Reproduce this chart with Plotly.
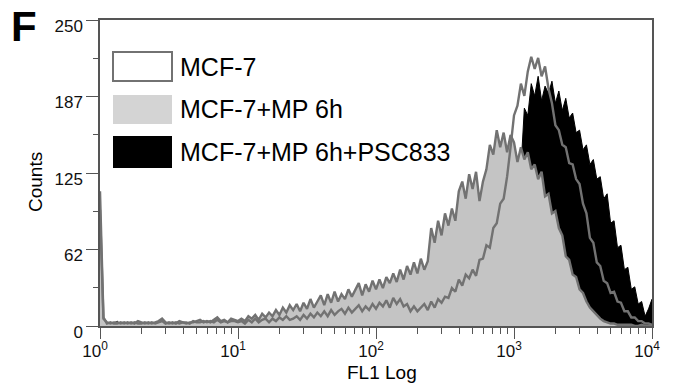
import numpy as np
import plotly.graph_objects as go

# ---- data (counts per channel, channels spaced 0.025 decades from 10^0 to 10^4) ----
n_channels = 161
log_step = 0.025

mcf7_counts = [
    110, 7, 2, 3, 2, 2, 3, 2, 3, 2,
    3, 2, 2, 3, 2, 3, 2, 3, 4, 2,
    3, 2, 3, 2, 3, 3, 2, 4, 3, 3,
    4, 3, 4, 3, 5, 3, 4, 3, 4, 4,
    3,
    4, 2, 5, 3, 6, 3, 5, 6, 3, 6,
    4, 7, 5, 8, 5, 6, 8, 5, 9, 6,
    10, 7, 11, 8, 12, 8, 13, 9, 12, 14,
    10, 15, 11, 14, 17, 12, 16, 13, 18, 14,
    19, 16, 21, 15, 23, 18, 22, 16, 18, 12,
    16, 12, 15, 18, 13, 20, 15, 22, 19, 24,
    23, 31, 28, 38, 33, 42, 39, 46, 41, 54,
    55, 66, 64, 80, 84, 100, 104, 122, 146, 172,
    180, 198, 188, 208, 220, 210, 219, 204, 212, 194,
    182, 164, 160, 148, 146, 133, 132, 120, 116, 100,
    92, 72, 68, 52, 49, 37, 35, 27, 28, 20,
    19, 12, 12, 7, 7, 4, 4, 2, 2, 1,
]

mp6h_counts = [
    95, 6, 3, 2, 3, 3, 2, 3, 2, 3,
    2, 4, 3, 2, 3, 2, 3, 4, 6, 3,
    2, 3, 2, 4, 3, 2, 3, 3, 4, 5,
    3, 4, 3, 5, 7, 4, 5, 3, 6, 5,
    4,
    6, 4, 8, 6, 9, 5, 10, 7, 11, 8,
    13, 9, 15, 11, 17, 13, 18, 12, 19, 14,
    22, 15, 20, 25, 17, 26, 19, 28, 20, 26,
    22, 30, 24, 29, 35, 25, 34, 28, 37, 30,
    38, 31, 40, 35, 43, 36, 46, 38, 49, 42,
    52, 43, 55, 46, 53, 80, 68, 86, 74, 92,
    82, 96, 86, 110, 118, 104, 124, 112, 126, 102,
    118, 128, 148, 140, 160, 146, 158, 142, 156, 150,
    134, 146, 136, 142, 128, 132, 120, 126, 106, 108,
    92, 94, 80, 74, 57, 54, 42, 40, 30, 27,
    20, 15, 12, 9, 6, 4, 3, 2, 2, 1,
    1, 1, 1, 1, 0, 0, 1, 0, 0, 0,
]

psc833_counts = [
    2, 1, 1, 1, 2, 4, 1, 1, 1, 1,
    1, 1, 1, 1, 1, 1, 1, 1, 1, 1,
    1, 1, 1, 1, 1, 1, 1, 4, 1, 1,
    1, 1, 1, 1, 1, 1, 1, 1, 1, 1,
    1,
    1, 1, 2, 1, 2, 1, 2, 2, 1, 2,
    2, 2, 3, 2, 2, 3, 2, 3, 3, 2,
    3, 3, 4, 3, 3, 4, 4, 3, 4, 5,
    4, 5, 4, 5, 5, 6, 5, 6, 6, 7,
    7, 6, 8, 7, 8, 9, 8, 9, 10, 9,
    11, 10, 12, 11, 13, 14, 13, 15, 16, 18,
    19, 21, 23, 25, 27, 30, 33, 36, 40, 44,
    49, 54, 60, 66, 74, 82, 92, 104, 120, 138,
    135, 128, 178, 172, 198, 188, 204, 184, 196, 190,
    200, 182, 192, 176, 186, 170, 174, 158, 160, 144,
    148, 132, 136, 120, 122, 104, 108, 84, 86, 64,
    66, 46, 48, 30, 32, 18, 20, 8, 14, 22,
]

series_names = ["MCF-7", "MCF-7+MP 6h", "MCF-7+MP 6h+PSC833"]
y_tick_values = [0, 62.5, 125, 187.5, 250]
y_tick_labels = ["0", "62", "125", "187", "250"]
x_tick_values = [1, 10, 100, 1000, 10000]
x_tick_labels = ["10<sup>0</sup>", "10<sup>1</sup>", "10<sup>2</sup>", "10<sup>3</sup>", "10<sup>4</sup>"]

channels = 10 ** (np.arange(n_channels) * log_step)

W, H = 674, 387
ML, MR, MT, MB = 100, 22, 20, 61
PW, PH = W - ML - MR, H - MT - MB


def px(x):
    return (x - ML) / PW


def py(y):
    return (H - MB - y) / PH


FONT = "Liberation Sans, Arial, Helvetica, sans-serif"
GRAY_LINE = "#727272"
AXIS = "#555555"

fig = go.Figure()
fig.add_trace(go.Scatter(x=channels, y=psc833_counts, mode="lines", fill="tozeroy",
                         fillcolor="#000000", line=dict(color="#000000", width=1),
                         name=series_names[2], showlegend=False))
fig.add_trace(go.Scatter(x=channels, y=mp6h_counts, mode="lines", fill="tozeroy",
                         fillcolor="#c4c4c4", line=dict(color=GRAY_LINE, width=2.4),
                         name=series_names[1], showlegend=False))
fig.add_trace(go.Scatter(x=channels, y=mcf7_counts, mode="lines",
                         line=dict(color=GRAY_LINE, width=2.4),
                         name=series_names[0], showlegend=False))

minor_x = [m * 10 ** d for d in range(4) for m in range(2, 10)]

fig.update_layout(
    width=W, height=H,
    margin=dict(l=ML, r=MR, t=MT, b=MB),
    paper_bgcolor="white", plot_bgcolor="white",
    font=dict(family=FONT, color="#111111", size=17),
    xaxis=dict(type="log", range=[0, 4], tickmode="array", tickvals=x_tick_values,
               ticktext=x_tick_labels, ticks="outside", ticklen=11, tickwidth=1.2,
               tickcolor=AXIS, showline=True, linecolor=AXIS, linewidth=1.5, mirror=True,
               showgrid=False, zeroline=False, tickfont=dict(size=17, family=FONT),
               ticklabelshift=-5, ticklabelstandoff=-2,
               minor=dict(tickvals=minor_x, ticks="outside", ticklen=6, tickcolor=AXIS,
                          tickwidth=1, showgrid=False)),
    yaxis=dict(range=[0, 250], tickmode="array", tickvals=y_tick_values,
               ticktext=y_tick_labels, ticks="outside", ticklen=12, tickwidth=1.2,
               tickcolor=AXIS, showline=True, linecolor=AXIS, linewidth=1.5, mirror=True,
               showgrid=False, zeroline=False, tickfont=dict(size=17, family=FONT),
               ticklabelshift=6,
               minor=dict(tickvals=[31.25, 93.75, 156.25, 218.75], ticks="outside",
                          ticklen=5, tickcolor=AXIS, tickwidth=1, showgrid=False)),
)

# legend swatches (pixel boxes) and labels
swatches = [
    (52, 81, "white", GRAY_LINE, 2),
    (95, 124, "#d4d4d4", "#d4d4d4", 0),
    (136, 168, "#000000", "#000000", 0),
]
for (top, bottom, fillc, linec, lw), name in zip(swatches, series_names):
    fig.add_shape(type="rect", xref="paper", yref="paper",
                  x0=px(113), x1=px(172), y0=py(bottom), y1=py(top),
                  fillcolor=fillc, line=dict(color=linec, width=lw))
    fig.add_annotation(xref="paper", yref="paper", x=px(178), y=py((top + bottom) / 2),
                       text=name, showarrow=False, xanchor="left", yanchor="middle",
                       font=dict(size=25, family=FONT, color="#000000"))

fig.add_annotation(xref="paper", yref="paper", x=px(24), y=py(26), text="<b>F</b>",
                   showarrow=False, xanchor="center", yanchor="middle",
                   font=dict(size=42, family=FONT, color="#000000"))
fig.add_annotation(xref="paper", yref="paper", x=px(35), y=py(182), text="Counts",
                   textangle=-90, showarrow=False, xanchor="center", yanchor="middle",
                   font=dict(size=19, family=FONT, color="#000000"))
fig.add_annotation(xref="paper", yref="paper", x=px(382), y=py(373), text="FL1 Log",
                   showarrow=False, xanchor="center", yanchor="middle",
                   font=dict(size=19, family=FONT, color="#000000"))

fig.write_html("out.html")
